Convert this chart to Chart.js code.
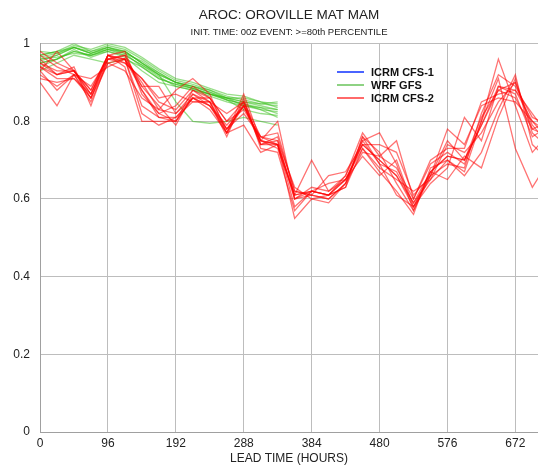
<!DOCTYPE html>
<html>
<head>
<meta charset="utf-8">
<script src="https://cdn.jsdelivr.net/npm/chart.js@4.4.1/dist/chart.umd.min.js"></script>
<style>
  html, body { margin: 0; padding: 0; background: #fff; }
  #wrap { position: relative; width: 538px; height: 467px; }
  #legend { position: absolute; left: 337px; top: 65px; font: bold 11px "Liberation Sans", Arial, sans-serif; color: #111; }
  #legend div { display: flex; align-items: center; height: 13px; }
  #legend span.sw { display: inline-block; width: 27px; height: 2px; margin-right: 7px; }
</style>
</head>
<body>
<div id="wrap">
  <canvas id="arocChart"></canvas>
  <div id="legend">
    <div><span class="sw" style="background:#4a64ff"></span>ICRM CFS-1</div>
    <div><span class="sw" style="background:#8ed283"></span>WRF GFS</div>
    <div><span class="sw" style="background:#ff6a6a"></span>ICRM CFS-2</div>
  </div>
</div>
<script>
// lead times (hours)
const redHours = [0, 24, 48, 72, 96, 120, 144, 168, 192, 216, 240, 264, 288, 312, 336, 360,
  384, 408, 432, 456, 480, 504, 528, 552, 576, 600, 624, 648, 672, 696, 720];
const greenHours = [0, 24, 48, 72, 96, 120, 144, 168, 192, 216, 240, 264, 288, 312, 336];
const xTicks = [0, 96, 192, 288, 384, 480, 576, 672];
const yTicks = [0, 0.2, 0.4, 0.6, 0.8, 1];

// ICRM CFS-2 members
const cfs2 = [
  [0.95,0.93,0.93,0.87,0.97,0.96,0.90,0.83,0.82,0.87,0.85,0.78,0.84,0.75,0.74,0.61,0.62,0.61,0.65,0.74,0.70,0.66,0.58,0.67,0.71,0.70,0.79,0.88,0.86,0.78,0.76],
  [0.92,0.89,0.92,0.86,0.96,0.97,0.88,0.81,0.80,0.86,0.84,0.77,0.85,0.74,0.76,0.62,0.61,0.60,0.64,0.76,0.72,0.64,0.57,0.66,0.69,0.68,0.82,0.92,0.89,0.81,0.79],
  [0.98,0.95,0.93,0.88,0.97,0.95,0.91,0.85,0.83,0.88,0.86,0.80,0.83,0.76,0.75,0.60,0.63,0.62,0.66,0.75,0.69,0.67,0.59,0.65,0.74,0.72,0.77,0.85,0.90,0.79,0.74],
  [0.90,0.84,0.92,0.85,0.95,0.96,0.82,0.79,0.81,0.85,0.85,0.76,0.86,0.73,0.72,0.57,0.62,0.61,0.63,0.73,0.67,0.62,0.56,0.68,0.70,0.66,0.72,0.83,0.92,0.74,0.70],
  [0.94,0.91,0.91,0.87,0.97,0.94,0.80,0.80,0.80,0.86,0.83,0.77,0.87,0.75,0.74,0.55,0.60,0.59,0.64,0.72,0.71,0.68,0.60,0.69,0.72,0.69,0.80,0.96,0.84,0.72,0.77],
  [0.96,0.92,0.94,0.84,0.96,0.97,0.89,0.84,0.79,0.87,0.84,0.79,0.84,0.75,0.73,0.61,0.70,0.62,0.65,0.71,0.66,0.70,0.58,0.64,0.68,0.81,0.75,0.89,0.87,0.76,0.79],
  [0.93,0.98,0.93,0.88,0.97,0.98,0.87,0.82,0.84,0.89,0.86,0.78,0.82,0.76,0.77,0.62,0.61,0.66,0.67,0.74,0.74,0.72,0.61,0.66,0.78,0.74,0.84,0.86,0.85,0.80,0.75],
  [0.97,0.94,0.92,0.89,0.96,0.95,0.91,0.86,0.87,0.85,0.85,0.82,0.85,0.74,0.75,0.63,0.60,0.61,0.66,0.77,0.71,0.75,0.60,0.70,0.73,0.73,0.85,0.87,0.88,0.82,0.76],
  [0.91,0.90,0.91,0.86,0.95,0.93,0.86,0.83,0.88,0.91,0.87,0.77,0.79,0.72,0.74,0.58,0.62,0.64,0.65,0.73,0.68,0.65,0.62,0.65,0.70,0.67,0.80,0.91,0.73,0.63,0.70],
  [0.95,0.92,0.93,0.86,0.97,0.96,0.89,0.89,0.82,0.86,0.84,0.78,0.84,0.75,0.80,0.60,0.61,0.60,0.64,0.75,0.77,0.69,0.57,0.67,0.65,0.71,0.68,0.81,0.91,0.77,0.73],
  [0.93,0.88,0.92,0.91,0.94,0.96,0.84,0.81,0.81,0.86,0.86,0.80,0.85,0.76,0.74,0.61,0.62,0.61,0.63,0.76,0.69,0.61,0.58,0.66,0.75,0.70,0.81,0.88,0.90,0.78,0.80],
  [0.94,0.92,0.93,0.87,0.96,0.96,0.88,0.82,0.80,0.88,0.85,0.77,0.84,0.74,0.74,0.60,0.62,0.61,0.65,0.74,0.70,0.66,0.59,0.67,0.71,0.70,0.79,0.89,0.88,0.80,0.77],
];

// WRF GFS members
const wrfGfs = [
  [0.96,0.97,0.99,0.975,0.99,0.98,0.95,0.92,0.90,0.89,0.875,0.86,0.85,0.84,0.83],
  [0.95,0.96,0.98,0.97,0.985,0.975,0.94,0.91,0.895,0.885,0.87,0.855,0.845,0.835,0.82],
  [0.97,0.98,1.0,0.98,0.995,0.985,0.96,0.93,0.905,0.895,0.88,0.865,0.855,0.845,0.84],
  [0.94,0.96,0.985,0.965,0.98,0.97,0.945,0.915,0.89,0.88,0.865,0.85,0.84,0.83,0.81],
  [0.98,0.975,0.99,0.98,0.99,0.975,0.955,0.925,0.90,0.89,0.88,0.86,0.85,0.845,0.85],
  [0.96,0.965,0.975,0.97,0.98,0.965,0.93,0.90,0.89,0.88,0.87,0.86,0.86,0.85,0.845],
  [0.955,0.97,0.99,0.975,0.985,0.98,0.95,0.92,0.85,0.80,0.795,0.80,0.81,0.80,0.79],
  [0.93,0.95,0.97,0.96,0.95,0.96,0.94,0.91,0.895,0.885,0.87,0.855,0.83,0.82,0.815],
  [0.965,0.975,0.995,0.985,1.0,0.99,0.965,0.935,0.91,0.90,0.885,0.87,0.865,0.85,0.835],
  [0.95,0.96,0.98,0.97,0.985,0.97,0.945,0.92,0.90,0.89,0.875,0.855,0.845,0.83,0.825],
  [0.97,0.98,0.99,0.975,0.99,0.98,0.95,0.925,0.90,0.885,0.87,0.86,0.84,0.835,0.83],
];

const FONT = "'Liberation Sans', Arial, sans-serif";

function member(hours, vals, color, order) {
  return {
    data: vals.map((v, i) => ({ x: hours[i], y: v })),
    borderColor: color,
    borderWidth: 1.3,
    pointRadius: 0,
    tension: 0,
    fill: false,
    order: order,
  };
}

const datasets = [
  ...cfs2.map((m) => member(redHours, m, "rgba(255,0,0,0.55)", 0)),
  ...wrfGfs.map((m) => member(greenHours, m, "rgba(50,190,20,0.5)", 1)),
];

new Chart(document.querySelector("#arocChart"), {
  type: "line",
  data: { datasets },
  options: {
    responsive: true,
    maintainAspectRatio: false,
    animation: false,
    plugins: {
      legend: { display: false },
      tooltip: { enabled: false },
      title: {
        display: true,
        fullSize: false,
        text: "AROC: OROVILLE MAT MAM",
        color: "#222",
        font: { family: FONT, size: 13.5, weight: "normal" },
        padding: { top: 7, bottom: 0 },
      },
      subtitle: {
        display: true,
        fullSize: false,
        text: "INIT. TIME: 00Z EVENT: >=80th PERCENTILE",
        color: "#222",
        font: { family: FONT, size: 9.5 },
        padding: { top: 3, bottom: 6 },
      },
    },
    scales: {
      x: {
        type: "linear",
        min: 0,
        max: 704,
        afterBuildTicks: (s) => { s.ticks = xTicks.map((v) => ({ value: v })); },
        afterFit: (s) => { s.height = 35; },
        ticks: { color: "#222", font: { family: FONT, size: 12 }, padding: 4, maxRotation: 0 },
        grid: { color: "#bdbdbd", lineWidth: 1, drawTicks: false },
        border: { color: "#a0a0a0" },
        title: {
          display: true,
          text: "LEAD TIME (HOURS)",
          color: "#222",
          font: { family: FONT, size: 12 },
          padding: { top: 0, bottom: 1 },
        },
      },
      y: {
        min: 0,
        max: 1,
        afterBuildTicks: (s) => { s.ticks = yTicks.map((v) => ({ value: v })); },
        afterFit: (s) => { s.width = 40; },
        ticks: {
          color: "#222",
          font: { family: FONT, size: 12 },
          padding: 10,
          callback: (v) => String(Math.round(v * 10) / 10),
        },
        grid: { color: "#bdbdbd", lineWidth: 1, drawTicks: false },
        border: { color: "#a0a0a0" },
      },
    },
  },
});
</script>
</body>
</html>
